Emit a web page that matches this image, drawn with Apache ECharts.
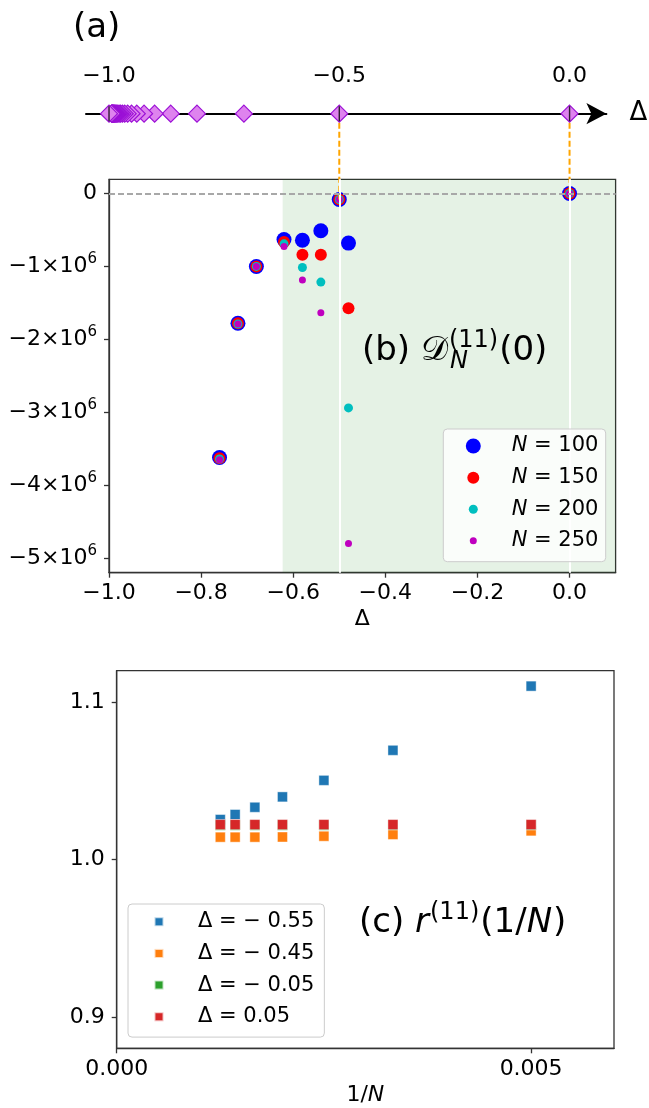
<!DOCTYPE html>
<html>
<head>
<meta charset="utf-8">
<script src="https://cdn.jsdelivr.net/npm/echarts@6/dist/echarts.min.js"></script>
<style>
  html, body { margin: 0; padding: 0; background: #fff; }
  #chart { width: 649px; height: 1108px; }
</style>
</head>
<body>
<div id="chart"></div>
<script>
// (a) marked points on the Delta line
const rootDelta = [0, -0.5, -0.7071, -0.809, -0.866, -0.901, -0.9239, -0.9397, -0.9511, -0.9595,
  -0.9659, -0.9709, -0.9749, -0.9781, -0.9808, -0.983, -0.9848, -0.9864, -0.9877, -0.9888,
  -0.9898, -0.9907, -0.9914, -0.9921, -0.9927, -0.9932, -0.9937, -0.9941, -0.9945, -1.0]
const topTicks = [-1.0, -0.5, 0.0]
const linkDelta = [-0.5, 0.0]

// (b) D_N^(11)(0)
const deltaB = [-0.76, -0.72, -0.68, -0.62, -0.58, -0.54, -0.50, -0.48, 0.0]
const dN100 = [-3.62e6, -1.78e6, -1.0e6, -0.63e6, -0.64e6, -0.51e6, -0.082e6, -0.68e6, 0]
const dN150 = [-3.63e6, -1.78e6, -1.0e6, -0.665e6, -0.84e6, -0.84e6, -0.082e6, -1.575e6, 0]
const dN200 = [-3.64e6, -1.79e6, -1.0e6, -0.69e6, -1.015e6, -1.215e6, -0.082e6, -2.94e6, 0]
const dN250 = [-3.65e6, -1.79e6, -1.0e6, -0.725e6, -1.185e6, -1.635e6, -0.082e6, -4.8e6, 0]
const nNames = ['N = 100', 'N = 150', 'N = 200', 'N = 250']
const xTicksB = [-1.0, -0.8, -0.6, -0.4, -0.2, 0.0]
const yTicksB = [-5e6, -4e6, -3e6, -2e6, -1e6, 0]
const shadeFrom = -0.623
const whiteLines = [-0.5, 0.0]

// (c) r^(11)(1/N)
const invN = [0.00125, 0.001429, 0.001667, 0.002, 0.0025, 0.003333, 0.005]
const rM055 = [1.0254, 1.0286, 1.0332, 1.0398, 1.0503, 1.0694, 1.1102]
const rM045 = [1.0142, 1.0142, 1.0142, 1.0143, 1.0148, 1.0159, 1.0182]
const rM005 = [1.0218, 1.0218, 1.0218, 1.0218, 1.0218, 1.0219, 1.0219]
const rP005 = [1.0222, 1.0222, 1.0222, 1.0222, 1.0222, 1.0222, 1.0222]
const cNames = ['\u0394 = \u2212 0.55', '\u0394 = \u2212 0.45', '\u0394 = \u2212 0.05', '\u0394 = 0.05']
const xTicksC = [0, 0.005]
const yTicksC = [0.9, 1.0, 1.1]

const FONT = 'DejaVu Sans'
const nColors = ['#0000ff', '#ff0000', '#00bfbf', '#bf00bf']
const nSizes = [15, 12, 9, 7]
const cColors = ['#1f77b4', '#ff7f0e', '#2ca02c', '#d62728']
const spine = '#333'

const fmt1 = (v) => (v < -1e-9 ? '\u2212' : '') + Math.abs(v).toFixed(1)
const fmtE6 = (v) => v === 0 ? '0' : '\u2212' + Math.round(-v / 1e6) + '\u00d710{s|6}'

const chart = echarts.init(document.getElementById('chart'))

// text measuring for the panel titles with sub/superscripts
const ctx = document.createElement('canvas').getContext('2d')
const textWidth = (t, size, style) => {
  ctx.font = (style || 'normal') + ' ' + size + 'px "' + FONT + '"'
  return ctx.measureText(t).width
}
const mathLabel = (prefix, x, y, parts) => {
  const out = []
  let cx = x
  parts.forEach((p, i) => {
    if (p.sup || p.sub) {
      let w = 0
      if (p.sup) {
        out.push({ type: 'text', id: prefix + i + 'u', x: cx, y: y - 10, z: 20,
          style: { text: p.sup, fontSize: 24, fontFamily: FONT, fill: '#000', verticalAlign: 'middle' } })
        w = Math.max(w, textWidth(p.sup, 24))
      }
      if (p.sub) {
        out.push({ type: 'text', id: prefix + i + 'd', x: cx + 1, y: y + 10.5, z: 20,
          style: { text: p.sub, fontSize: 24, fontStyle: 'italic', fontFamily: FONT, fill: '#000', verticalAlign: 'middle' } })
        w = Math.max(w, textWidth(p.sub, 24, 'italic'))
      }
      cx += w + 1
    } else {
      const st = p.italic ? 'italic' : 'normal'
      out.push({ type: 'text', id: prefix + i, x: cx, y: y, z: 20,
        style: { text: p.t, fontSize: 34, fontStyle: st, fontFamily: p.family || FONT, fill: '#000', verticalAlign: 'middle' } })
      cx += textWidth(p.t, 34, st) + (p.gap || 0)
    }
  })
  return out
}

const labelB = mathLabel('lb', 362, 351, [
  { t: '(b) ' }, { t: '\ud835\udc9f', gap: 1 }, { sup: '(11)', sub: 'N' }, { t: '(0)' }
])
const labelC = mathLabel('lc', 359, 923, [
  { t: '(c) ' }, { t: 'r', italic: true, gap: 1 }, { sup: '(11)' }, { t: '(1/' }, { t: 'N', italic: true, gap: 1 }, { t: ')' }
])

const legendB = nNames.map((name, i) => ({
  data: [name],
  left: 473.3 - nSizes[i] / 2,
  top: [446, 477.7, 509.3, 540.7][i] - 12,
  padding: 0,
  icon: 'circle',
  itemWidth: nSizes[i],
  itemHeight: nSizes[i],
  selectedMode: false,
  z: 10,
  formatter: (n) => '{i|N} = ' + n.split(' = ')[1],
  textStyle: {
    fontSize: 21, fontFamily: FONT, color: '#000', lineHeight: 24,
    padding: [0, 0, 0, 511.7 - (473.3 + nSizes[i] / 2 + 5)],
    rich: { i: { fontStyle: 'italic', fontSize: 21, fontFamily: FONT, lineHeight: 24 } }
  }
}))

const legendC = {
  data: cNames,
  orient: 'vertical',
  left: 128,
  top: 904,
  padding: [5.7, 10, 8.3, 25.5],
  itemGap: 7.7,
  icon: 'rect',
  itemWidth: 9,
  itemHeight: 9,
  selectedMode: false,
  backgroundColor: 'rgba(255,255,255,0.8)',
  borderColor: '#cccccc',
  borderWidth: 1,
  borderRadius: 4,
  z: 10,
  textStyle: { fontSize: 21, fontFamily: FONT, color: '#000', lineHeight: 24, padding: [0, 0, 0, 29.5] }
}

const axisText = { fontSize: 22, fontFamily: FONT, color: '#000' }

const option = {
  animation: false,
  backgroundColor: '#fff',
  textStyle: { fontFamily: FONT },
  grid: [
    { left: 86, top: 93.7, width: 520.4, height: 40, outerBoundsMode: 'none' },
    { left: 109, top: 179.3, width: 506.6, height: 393.4, outerBoundsMode: 'none',
      show: true, borderColor: spine, borderWidth: 1.3, backgroundColor: 'transparent' },
    { left: 116.7, top: 670.7, width: 497.3, height: 377.6, outerBoundsMode: 'none',
      show: true, borderColor: spine, borderWidth: 1.3, backgroundColor: 'transparent' }
  ],
  xAxis: [
    {
      gridIndex: 0, type: 'value', min: -1.05, max: 0.08, position: 'top',
      axisLine: { onZero: true, lineStyle: { color: '#000', width: 2 }, symbol: ['none', 'arrow'], symbolSize: [16, 20] },
      axisTick: { show: false },
      splitLine: { show: false },
      axisLabel: { customValues: topTicks, formatter: fmt1, margin: 6, ...axisText },
      name: '\u0394', nameLocation: 'end', nameGap: 23,
      nameTextStyle: { fontSize: 26, fontFamily: FONT, color: '#000', verticalAlign: 'middle' }
    },
    {
      gridIndex: 1, type: 'value', min: -1, max: 0.1,
      axisLine: { onZero: false, lineStyle: { color: spine, width: 1.3 } },
      axisTick: { customValues: xTicksB, length: 5, lineStyle: { color: spine, width: 1.3 } },
      splitLine: { show: false },
      axisLabel: { customValues: xTicksB, formatter: fmt1, margin: 10, ...axisText },
      name: '\u0394', nameLocation: 'middle', nameGap: 36,
      nameTextStyle: { ...axisText }
    },
    {
      gridIndex: 2, type: 'value', min: 0, max: 0.006,
      axisLine: { onZero: false, lineStyle: { color: spine, width: 1.3 } },
      axisTick: { customValues: xTicksC, length: 5, lineStyle: { color: spine, width: 1.3 } },
      splitLine: { show: false },
      axisLabel: { customValues: xTicksC, formatter: (v) => v.toFixed(3), margin: 10, ...axisText },
      name: '1/{i|N}', nameLocation: 'middle', nameGap: 36,
      nameTextStyle: { ...axisText, rich: { i: { ...axisText, fontStyle: 'italic' } } }
    }
  ],
  yAxis: [
    { gridIndex: 0, type: 'value', min: -1, max: 1, show: false },
    {
      gridIndex: 1, type: 'value', min: -5.2e6, max: 0.195e6,
      axisLine: { show: true, onZero: false, lineStyle: { color: spine, width: 1.3 } },
      axisTick: { show: true, customValues: yTicksB, length: 5, lineStyle: { color: spine, width: 1.3 } },
      splitLine: { show: false },
      axisLabel: {
        customValues: yTicksB, formatter: fmtE6, margin: 12, ...axisText, lineHeight: 30,
        rich: { s: { fontSize: 15, lineHeight: 15, fontFamily: FONT, color: '#000', verticalAlign: 'top' } }
      }
    },
    {
      gridIndex: 2, type: 'value', min: 0.88, max: 1.12,
      axisLine: { show: true, onZero: false, lineStyle: { color: spine, width: 1.3 } },
      axisTick: { show: true, customValues: yTicksC, length: 5, lineStyle: { color: spine, width: 1.3 } },
      splitLine: { show: false },
      axisLabel: { customValues: yTicksC, formatter: (v) => v.toFixed(1), margin: 12, ...axisText }
    }
  ],
  legend: [...legendB, legendC],
  graphic: {
    elements: [
      { type: 'text', id: 'tagA', x: 73, y: 28, z: 20,
        style: { text: '(a)', fontSize: 34, fontFamily: FONT, fill: '#000', verticalAlign: 'middle' } },
      { type: 'rect', id: 'boxB', z: 9, shape: { x: 443.3, y: 429, width: 162.4, height: 132.7, r: 4 },
        style: { fill: 'rgba(255,255,255,0.8)', stroke: '#cccccc', lineWidth: 1 } },
      ...labelB,
      ...labelC
    ]
  },
  series: [
    // (a)
    {
      type: 'scatter', xAxisIndex: 0, yAxisIndex: 0, z: 6, silent: true,
      symbol: 'diamond', symbolSize: 17,
      itemStyle: { color: '#de83ee', borderColor: '#9b10d6', borderWidth: 1.2, opacity: 1 },
      data: rootDelta.map((d) => [d, 0])
    },
    {
      type: 'scatter', xAxisIndex: 0, yAxisIndex: 0, z: 7, silent: true,
      symbol: 'rect', symbolSize: [1.4, 15],
      itemStyle: { color: '#000' },
      data: topTicks.map((d) => [d, 0])
    },
    // (b) background
    {
      type: 'line', xAxisIndex: 1, yAxisIndex: 1, z: 1, silent: true, data: [],
      markArea: {
        silent: true,
        itemStyle: { color: 'rgba(0,128,0,0.1)' },
        data: [[{ xAxis: shadeFrom }, { xAxis: 0.1 }]]
      }
    },
    {
      type: 'line', xAxisIndex: 1, yAxisIndex: 1, z: 2, silent: true, data: [],
      markLine: {
        silent: true, symbol: ['none', 'none'], label: { show: false },
        data: [
          ...whiteLines.map((v) => ({ xAxis: v, lineStyle: { color: '#ffffff', width: 2, type: 'solid' } })),
          { yAxis: 0, lineStyle: { color: '#a8a8a8', width: 2, type: [6, 3] } }
        ]
      }
    },
    ...[dN100, dN150, dN200, dN250].map((vals, i) => ({
      name: nNames[i], type: 'scatter', xAxisIndex: 1, yAxisIndex: 1, z: 3,
      symbol: 'circle', symbolSize: nSizes[i],
      itemStyle: { color: nColors[i], opacity: 1 },
      data: deltaB.map((d, j) => [d, vals[j]])
    })),
    // (c)
    ...[rM055, rM045, rM005, rP005].map((vals, i) => ({
      name: cNames[i], type: 'scatter', xAxisIndex: 2, yAxisIndex: 2, z: 3,
      symbol: 'rect', symbolSize: 10,
      itemStyle: { color: cColors[i], borderColor: 'rgba(255,255,255,0.7)', borderWidth: 0.6, opacity: 1 },
      data: invN.map((x, j) => [x, vals[j]])
    }))
  ]
}

chart.setOption(option)

// orange dashed links from the Delta line down to the panel (b) points
const links = linkDelta.map((d, i) => {
  const top = chart.convertToPixel({ gridIndex: 0 }, [d, 0])
  const bot = chart.convertToPixel({ gridIndex: 1 }, [d, dN100[deltaB.indexOf(d)]])
  return {
    type: 'line', id: 'link' + i, z: 5, silent: true,
    shape: { x1: top[0], y1: top[1], x2: bot[0], y2: bot[1] },
    style: { stroke: '#ffa500', lineWidth: 2, lineDash: [6, 3] }
  }
})
chart.setOption({ graphic: { elements: links } })
</script>
</body>
</html>
